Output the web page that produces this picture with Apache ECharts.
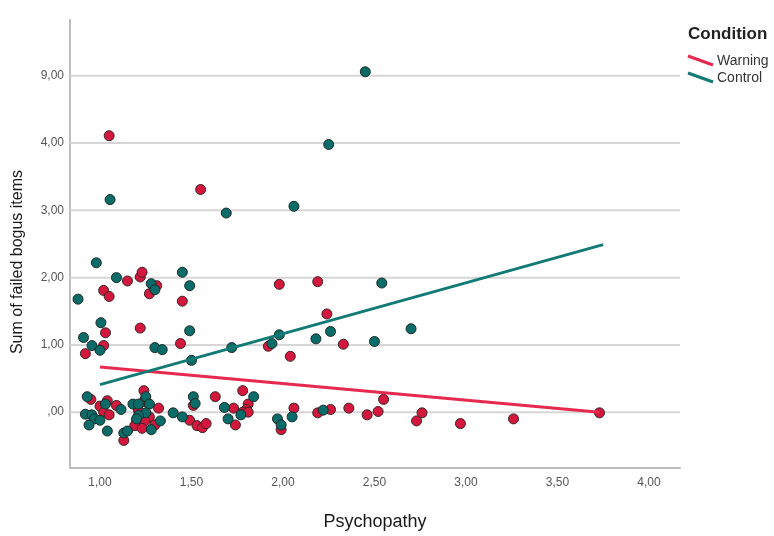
<!DOCTYPE html>
<html><head><meta charset="utf-8">
<script src="https://cdn.jsdelivr.net/npm/echarts@6/dist/echarts.min.js"></script>
<style>html,body{margin:0;padding:0;background:#fff}#c{width:774px;height:536px}</style>
</head><body><div id="c"></div>
<script>
// Psychopathy (x) and jittered "Sum of failed bogus items" (y) per condition
var warningPsy = [1.05,1.55,1.15,1.22,1.23,1.31,1.27,1.45,1.02,1.05,1.03,1.22,1.02,0.92,1.44,1.98,1.92,2.04,2.19,2.24,2.33,
  0.95,1.00,1.04,1.09,1.02,1.05,1.13,1.24,1.24,1.32,1.21,1.27,1.20,1.245,1.19,1.23,1.30,1.49,1.53,1.56,1.58,1.51,1.63,1.73,1.74,1.78,1.81,1.80,1.78,1.81,1.99,2.06,2.19,2.26,2.36,2.46,2.52,2.55,2.73,2.76,2.97,3.26,3.73];
var warningBogus = [4.11,3.31,1.95,2.01,2.08,1.88,1.76,1.65,1.81,1.72,1.18,1.25,0.99,0.87,1.02,1.90,0.98,0.83,1.94,1.46,1.01,
  0.19,0.09,0.17,0.10,0.00,-0.04,-0.42,0.32,0.16,0.06,0.03,-0.07,-0.12,-0.13,-0.20,-0.24,-0.19,-0.12,-0.20,-0.23,-0.17,0.10,0.23,0.06,-0.19,0.32,0.12,0.04,0.00,0.00,-0.26,0.06,-0.01,0.04,0.06,-0.04,0.01,0.19,-0.13,-0.01,-0.17,-0.10,-0.01];
var controlPsy = [2.45,2.25,2.06,1.055,1.69,0.88,0.98,1.09,1.28,1.30,1.45,1.49,1.005,1.49,0.91,0.956,1.00,1.30,1.34,1.72,1.50,1.94,1.98,2.18,2.26,2.50,2.54,2.70,
  0.93,1.03,1.115,0.92,0.955,0.97,1.00,0.94,1.04,1.13,1.15,1.25,1.18,1.21,1.27,1.25,1.21,1.20,1.28,1.33,1.40,1.45,1.51,1.52,1.68,1.70,1.77,1.84,1.97,1.99,2.05,2.22];
var controlBogus = [9.06,3.98,3.06,3.16,2.96,1.68,2.22,2.00,1.91,1.82,2.08,1.88,1.33,1.21,1.11,0.99,0.92,0.96,0.93,0.96,0.77,1.02,1.15,1.09,1.20,1.05,1.92,1.24,
  0.23,0.12,0.04,-0.03,-0.04,-0.10,-0.12,-0.19,-0.28,-0.31,-0.28,0.23,0.12,0.12,0.12,-0.01,-0.05,-0.10,-0.26,-0.13,-0.01,-0.07,0.23,0.13,0.07,-0.10,-0.04,0.23,-0.10,-0.19,-0.07,0.03];
// fit lines (x, y) endpoints
var warningFitX = [1.00, 3.73], warningFitY = [0.67, 0.00];
var controlFitX = [1.00, 3.75], controlFitY = [0.41, 2.49];
// y axis ticks (raw values) - the axis shows 0,1,2,3,4 then 9 one step above 4
var yTickValues = [0, 1, 2, 3, 4, 9];
var xTickValues = [1.0, 1.5, 2.0, 2.5, 3.0, 3.5, 4.0];
var xRange = [0.836, 4.17], yRange = [-0.83, 5.83];

function toDisp(v){ return v >= 4.5 ? v - 4 : v; }
function fmt(v){ var s = v.toFixed(2).replace('.', ','); return s.indexOf('0,') === 0 ? s.slice(1) : s; }
function zip(xs, ys){ return xs.map(function(x,i){ return [x, toDisp(ys[i])]; }); }
var yDisp = yTickValues.map(toDisp);

var RED = '#D3173D', TEAL = '#0A6C68', RED_L = '#E8294F', TEAL_L = '#127A75';
var ff = '"Liberation Sans", Arial, sans-serif';

var gridSeries = yDisp.map(function(v){
  return {type: 'line', data: [[xRange[0], v], [xRange[1], v]], symbol: 'none', silent: true,
          lineStyle: {color: '#d6d6d6', width: 2}, z: 1};
});

var chart = echarts.init(document.getElementById('c'), null, {renderer:'canvas'});
chart.setOption({
  animation: false,
  backgroundColor: '#fff',
  grid: {left: 70, right: 94, top: 20, bottom: 59, containLabel: false},
  xAxis: {
    type: 'value', min: xRange[0], max: xRange[1],
    axisLine: {show: true, onZero: false, lineStyle: {color: '#bdbdbd', width: 2}},
    axisTick: {show: false},
    splitLine: {show: false},
    axisLabel: {customValues: xTickValues, formatter: function(v){ return fmt(v); }, color: '#555', fontFamily: ff, fontSize: 12, margin: 9},
    name: 'Psychopathy', nameLocation: 'middle', nameGap: 45,
    nameTextStyle: {color: '#1a1a1a', fontFamily: ff, fontSize: 18}
  },
  yAxis: {
    type: 'value', min: yRange[0], max: yRange[1],
    axisLine: {show: true, onZero: false, lineStyle: {color: '#bdbdbd', width: 2}},
    axisTick: {show: false},
    splitLine: {show: false},
    axisLabel: {customValues: yDisp, formatter: function(v){ var i = yDisp.indexOf(Math.round(v)); return fmt(yTickValues[i]); }, color: '#555', fontFamily: ff, fontSize: 12, margin: 6}
  },
  series: gridSeries.concat([
    {name: 'Warning', type: 'scatter', data: zip(warningPsy, warningBogus), symbolSize: 10,
     itemStyle: {color: RED, borderColor: '#3a2626', borderWidth: 1, opacity: 1}, z: 3},
    {name: 'Control', type: 'scatter', data: zip(controlPsy, controlBogus), symbolSize: 10,
     itemStyle: {color: TEAL, borderColor: '#1c2b2b', borderWidth: 1, opacity: 1}, z: 3},
    {name: 'Warning fit', type: 'line', data: zip(warningFitX, warningFitY), symbol: 'none',
     lineStyle: {color: RED_L, width: 3}, z: 4},
    {name: 'Control fit', type: 'line', data: zip(controlFitX, controlFitY), symbol: 'none',
     lineStyle: {color: TEAL_L, width: 3}, z: 4}
  ]),
  graphic: [
    {type: 'text', x: 18, y: 262, rotation: Math.PI / 2,
     style: {text: 'Sum of failed bogus items', font: '16px ' + ff, fill: '#1a1a1a', align: 'center', verticalAlign: 'middle'}},
    {type: 'text', left: 688, top: 26, style: {text: 'Condition', font: 'bold 17px ' + ff, fill: '#222'}},
    {type: 'line', shape: {x1: 688, y1: 56, x2: 713, y2: 65}, style: {stroke: RED_L, lineWidth: 3}},
    {type: 'text', left: 717, top: 54, style: {text: 'Warning', font: '14px ' + ff, fill: '#333'}},
    {type: 'line', shape: {x1: 688, y1: 73, x2: 713, y2: 82}, style: {stroke: TEAL_L, lineWidth: 3}},
    {type: 'text', left: 717, top: 71, style: {text: 'Control', font: '14px ' + ff, fill: '#333'}}
  ]
});
</script></body></html>
